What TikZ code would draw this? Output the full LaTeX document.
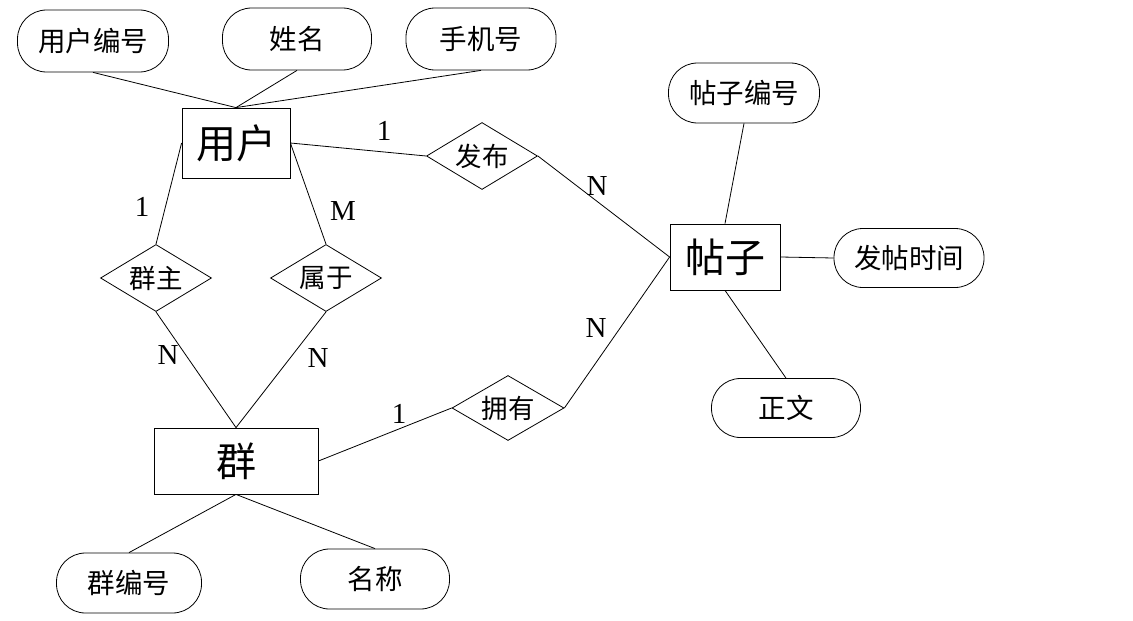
\documentclass[tikz,border=0pt]{standalone}
\usepackage{fontspec}
\setmainfont{Liberation Serif}
\newfontfamily\cjk{Noto Sans CJK SC}
\usetikzlibrary{shapes.geometric}
\begin{document}
\begin{tikzpicture}[x=1pt,y=-1pt,line width=0.8pt,
  attr/.style={draw, rounded corners=29pt, minimum width=150pt, minimum height=61pt, inner sep=0pt, font=\cjk\fontsize{27.5}{32}\selectfont},
  ent/.style={draw, minimum width=108pt, minimum height=70pt, inner sep=0pt, font=\cjk\fontsize{40}{46}\selectfont},
  rel/.style={draw, diamond, aspect=1.65, minimum width=111pt, minimum height=67pt, inner sep=0pt, font=\cjk\fontsize{26.5}{30}\selectfont},
  card/.style={font=\fontsize{29}{32}\selectfont, inner sep=0pt}]
\useasboundingbox[fill=white] (0,0) rectangle (1133,621);
% entities
\node[ent] (user) at (236,143) {用户};
\node[ent, minimum width=110pt, minimum height=66pt] (post) at (725,257) {帖子};
\node[ent, minimum width=164pt, minimum height=66pt] (group) at (236,461) {群};
% attributes
\node[attr, minimum width=151pt, minimum height=62pt] (uid) at (93,41) {用户编号};
\node[attr, minimum width=149pt, minimum height=62pt] (name) at (297,39) {姓名};
\node[attr, minimum width=150pt, minimum height=62pt] (phone) at (481,39) {手机号};
\node[attr, minimum width=151pt, minimum height=60pt] (pid) at (744,93) {帖子编号};
\node[attr, minimum width=150pt, minimum height=59pt] (ptime) at (909,258) {发帖时间};
\node[attr, minimum width=149pt, minimum height=59pt] (body) at (786,408) {正文};
\node[attr, minimum width=145pt, minimum height=60pt] (gid) at (129,583) {群编号};
\node[attr, minimum width=149pt, minimum height=60pt] (gname) at (375,579) {名称};
% relationships
\node[rel] (pub) at (482,156) {发布};
\node[rel] (owner) at (156,278) {群主};
\node[rel] (belong) at (326,278) {属于};
\node[rel, minimum width=112pt, minimum height=65pt] (has) at (508,408) {拥有};
% connectors
\draw (uid.south) -- (user.north);
\draw (name.south) -- (user.north);
\draw (phone.south) -- (user.north);
\draw (user.west) -- (owner.north);
\draw (user.east) -- (belong.north);
\draw (user.east) -- (pub.west);
\draw (pub.east) -- (post.west);
\draw (has.east) -- (post.west);
\draw (post.north) -- (pid.south);
\draw (post.east) -- (ptime.west);
\draw (post.south) -- (body.north);
\draw (owner.south) -- (group.north);
\draw (belong.south) -- (group.north);
\draw (group.east) -- (has.west);
\draw (group.south) -- (gid.north);
\draw (group.south) -- (gname.north);
% cardinalities
\node[card] (c1) at (384,131) {1};
\node[card] (c2) at (142,207) {1};
\node[card] (c3) at (343,211) {M};
\node[card] (c4) at (168,355) {N};
\node[card] (c5) at (318,358) {N};
\node[card] (c6) at (597,186) {N};
\node[card] (c7) at (596,328) {N};
\node[card] (c8) at (399,414) {1};
\end{tikzpicture}
\end{document}
